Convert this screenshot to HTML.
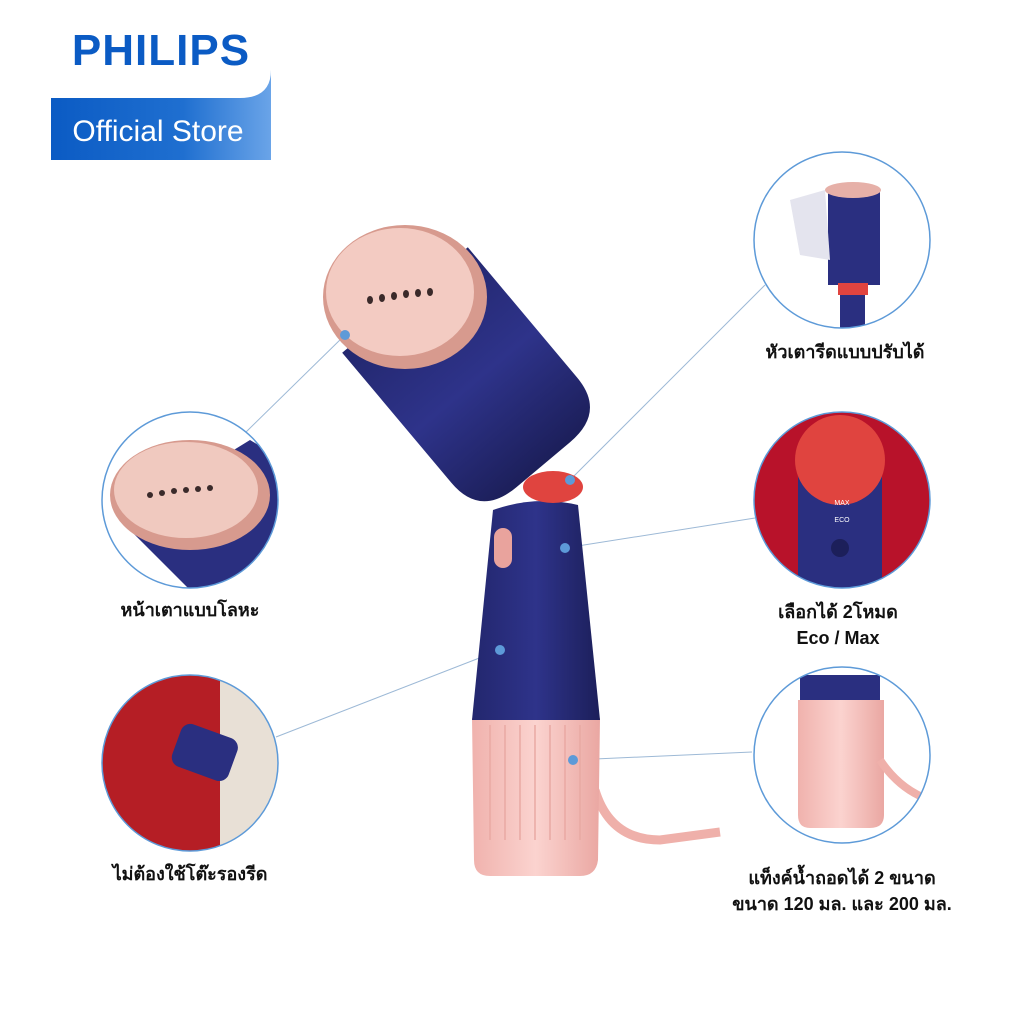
<!DOCTYPE html>
<html><head><meta charset="utf-8"><style>
html,body{margin:0;padding:0;background:#fff;}
body{width:1024px;height:1024px;position:relative;overflow:hidden;font-family:"Liberation Sans","Noto Sans CJK SC",sans-serif;}
</style></head><body>
<svg width="1024" height="1024" viewBox="0 0 1024 1024" style="position:absolute;left:0;top:0">
<defs>
<linearGradient id="lg" x1="0" x2="1" y1="0" y2="0"><stop offset="0" stop-color="#0b5bc4"/><stop offset="0.6" stop-color="#1f6fd0"/><stop offset="1" stop-color="#6aa4e8"/></linearGradient>
<linearGradient id="nv" x1="0" x2="1"><stop offset="0" stop-color="#23276e"/><stop offset="0.5" stop-color="#2e338a"/><stop offset="1" stop-color="#1c1f5a"/></linearGradient>
<linearGradient id="pk" x1="0" x2="1"><stop offset="0" stop-color="#f0b2ad"/><stop offset="0.5" stop-color="#fbd3cf"/><stop offset="1" stop-color="#eaa7a2"/></linearGradient>
<clipPath id="c1"><circle cx="190" cy="500" r="88"/></clipPath>
<clipPath id="c2"><circle cx="190" cy="763" r="88"/></clipPath>
<clipPath id="c3"><circle cx="842" cy="240" r="88"/></clipPath>
<clipPath id="c4"><circle cx="842" cy="500" r="88"/></clipPath>
<clipPath id="c5"><circle cx="842" cy="755" r="88"/></clipPath>
</defs>
<rect x="51" y="0" width="220" height="160" fill="url(#lg)"/>
<path d="M51 0 H271 V70 Q271 98 240 98 H51 Z" fill="#fff"/>
<text x="161" y="65" text-anchor="middle" font-size="44" font-weight="bold" fill="#0b5bc4" letter-spacing="1">PHILIPS</text>
<text x="158" y="141" text-anchor="middle" font-size="30" fill="#fff">Official Store</text>
<g stroke="#9db9d6" stroke-width="1">
<line x1="345" y1="335" x2="245" y2="433"/>
<line x1="570" y1="480" x2="765" y2="285"/>
<line x1="565" y1="548" x2="755" y2="518"/>
<line x1="500" y1="650" x2="276" y2="737"/>
<line x1="573" y1="760" x2="752" y2="752"/>
</g>
<path d="M595 790 Q610 840 660 840 L720 832" stroke="#efb0aa" stroke-width="9" fill="none"/>
<path d="M472 718 H600 L598 860 Q596 876 580 876 H490 Q474 876 474 860 Z" fill="url(#pk)"/>
<g stroke="#e9a9a3" stroke-width="1.5"><line x1="490" y1="725" x2="490" y2="840"/><line x1="505" y1="725" x2="505" y2="840"/><line x1="520" y1="725" x2="520" y2="840"/><line x1="535" y1="725" x2="535" y2="840"/><line x1="550" y1="725" x2="550" y2="840"/><line x1="565" y1="725" x2="565" y2="840"/><line x1="580" y1="725" x2="580" y2="840"/></g>
<path d="M493 510 Q535 495 578 505 L600 720 H472 Z" fill="url(#nv)"/>
<rect x="494" y="528" width="18" height="40" rx="9" fill="#e9a39d"/>
<ellipse cx="553" cy="487" rx="30" ry="16" fill="#e0443f"/>
<g transform="translate(405,300) rotate(50)">
<path d="M0 -82 H170 Q215 -82 215 -35 V35 Q215 82 170 82 H0 Z" fill="url(#nv)"/>
</g>
<ellipse cx="405" cy="297" rx="82" ry="72" fill="#d79a8e"/>
<ellipse cx="400" cy="292" rx="74" ry="64" fill="#f3cbc2"/>
<g fill="#3a2a2a"><ellipse cx="370" cy="300" rx="3" ry="4"/><ellipse cx="382" cy="298" rx="3" ry="4"/><ellipse cx="394" cy="296" rx="3" ry="4"/><ellipse cx="406" cy="294" rx="3" ry="4"/><ellipse cx="418" cy="293" rx="3" ry="4"/><ellipse cx="430" cy="292" rx="3" ry="4"/></g>
<g fill="#5d9ad8"><circle cx="345" cy="335" r="5"/><circle cx="570" cy="480" r="5"/><circle cx="565" cy="548" r="5"/><circle cx="500" cy="650" r="5"/><circle cx="573" cy="760" r="5"/></g>
<g clip-path="url(#c1)"><rect x="100" y="410" width="180" height="180" fill="#fff"/>
<path d="M120 520 L200 600 L300 600 L300 470 L250 440 Z" fill="#2a2f80"/>
<ellipse cx="190" cy="495" rx="80" ry="55" fill="#d79a8e"/>
<ellipse cx="186" cy="490" rx="72" ry="48" fill="#f0c9bf"/>
<g fill="#3a2a2a"><circle cx="150" cy="495" r="3"/><circle cx="162" cy="493" r="3"/><circle cx="174" cy="491" r="3"/><circle cx="186" cy="490" r="3"/><circle cx="198" cy="489" r="3"/><circle cx="210" cy="488" r="3"/></g></g>
<g clip-path="url(#c2)"><rect x="100" y="673" width="180" height="180" fill="#e8e0d6"/><rect x="100" y="673" width="120" height="180" fill="#b51e25"/><rect x="175" y="730" width="60" height="45" rx="10" fill="#2a2f80" transform="rotate(20 205 752)"/></g>
<g clip-path="url(#c3)"><rect x="754" y="152" width="180" height="180" fill="#fff"/><rect x="828" y="190" width="52" height="95" fill="#2a2f80"/><ellipse cx="853" cy="190" rx="28" ry="8" fill="#e6b0a8"/><rect x="840" y="285" width="25" height="60" fill="#2a2f80"/><rect x="838" y="283" width="30" height="12" fill="#e0443f"/><path d="M790 200 L825 190 L830 260 L800 255 Z" fill="#e4e4ee"/></g>
<g clip-path="url(#c4)"><rect x="754" y="412" width="180" height="180" fill="#b8122a"/><rect x="798" y="470" width="84" height="130" fill="#2a2f80"/><ellipse cx="840" cy="460" rx="45" ry="45" fill="#e0443f"/><circle cx="840" cy="548" r="9" fill="#1c1f5a"/><text x="842" y="505" font-size="7" fill="#fff" text-anchor="middle">MAX</text><text x="842" y="522" font-size="7" fill="#fff" text-anchor="middle">ECO</text></g>
<g clip-path="url(#c5)"><rect x="754" y="667" width="180" height="180" fill="#fff"/><rect x="800" y="675" width="80" height="28" fill="#2a2f80"/><path d="M798 700 H884 V815 Q884 828 870 828 H810 Q798 828 798 815 Z" fill="url(#pk)"/><path d="M880 760 Q900 790 930 800" stroke="#efb0aa" stroke-width="8" fill="none"/></g>
<g fill="none" stroke="#5d9ad8" stroke-width="1.5"><circle cx="190" cy="500" r="88"/><circle cx="190" cy="763" r="88"/><circle cx="842" cy="240" r="88"/><circle cx="842" cy="500" r="88"/><circle cx="842" cy="755" r="88"/></g>
<g font-family="'Liberation Sans','Noto Sans CJK SC',sans-serif" font-size="18" font-weight="bold" fill="#111" text-anchor="middle">
<text x="190" y="616">หน้าเตาแบบโลหะ</text>
<text x="190" y="880">ไม่ต้องใช้โต๊ะรองรีด</text>
<text x="845" y="358">หัวเตารีดแบบปรับได้</text>
<text x="838" y="618">เลือกได้ 2โหมด</text>
<text x="838" y="644">Eco / Max</text>
<text x="842" y="884">แท็งค์น้ำถอดได้ 2 ขนาด</text>
<text x="842" y="910">ขนาด 120 มล. และ 200 มล.</text>
</g>
</svg>
</body></html>
